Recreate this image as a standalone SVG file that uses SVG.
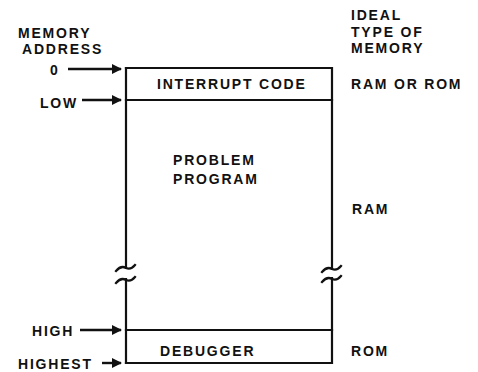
<svg xmlns="http://www.w3.org/2000/svg" width="478" height="372" viewBox="0 0 478 372">
<style>
text{font-family:"Liberation Sans",Arial,sans-serif;font-size:14px;font-weight:bold;fill:#111;letter-spacing:1.8px}
.ln{stroke:#111;stroke-width:2.2;fill:none;stroke-linecap:square}
.ar{stroke:#111;stroke-width:2.4;fill:none}
</style>
<defs>
<marker id="ah" viewBox="0 0 10 10" refX="9" refY="5" markerWidth="12" markerHeight="10" markerUnits="userSpaceOnUse" orient="auto">
<path d="M0,0 L10,5 L0,10 Z" fill="#111"/>
</marker>
</defs>
<rect width="478" height="372" fill="#fff"/>
<g id="labels-left">
<text x="18" y="38">MEMORY</text>
<text x="22" y="54">ADDRESS</text>
<text x="50" y="75">0</text>
<text x="40" y="108">LOW</text>
<text x="32" y="336">HIGH</text>
<text x="18" y="369">HIGHEST</text>
</g>
<g id="labels-right">
<text x="351" y="20">IDEAL</text>
<text x="351" y="37">TYPE OF</text>
<text x="351" y="53">MEMORY</text>
<text x="351" y="89">RAM OR ROM</text>
<text x="352" y="214">RAM</text>
<text x="351" y="356">ROM</text>
</g>
<g id="memory-map">
<g id="interrupt-code">
<path class="ln" d="M126,68 H332 V100 H126"/>
<text x="157" y="89" letter-spacing="1.4">INTERRUPT CODE</text>
</g>
<g id="problem-program">
<path class="ln" d="M126,68 V268 M126,279 V363 M332,100 V269 M332,278 V330"/>
<path class="ln" d="M116,271 Q121,265 126,268 Q131,270 135,265 M116,283 Q121,277 126,280 Q131,282 135,277"/>
<path class="ln" d="M322,272 Q327,266 332,269 Q337,271 341,266 M322,282 Q327,276 332,279 Q337,281 341,276"/>
<text x="173" y="165">PROBLEM</text>
<text x="173" y="184">PROGRAM</text>
</g>
<g id="debugger">
<path class="ln" d="M126,330 H332 V363 H126"/>
<text x="160" y="356" letter-spacing="2.6">DEBUGGER</text>
</g>
</g>
<g id="connectors">
<line class="ar" x1="68" y1="69" x2="121" y2="69" marker-end="url(#ah)"/>
<line class="ar" x1="82" y1="100" x2="121" y2="100" marker-end="url(#ah)"/>
<line class="ar" x1="80" y1="330" x2="121" y2="330" marker-end="url(#ah)"/>
<line class="ar" x1="102" y1="363" x2="121" y2="363" marker-end="url(#ah)"/>
</g>
</svg>
